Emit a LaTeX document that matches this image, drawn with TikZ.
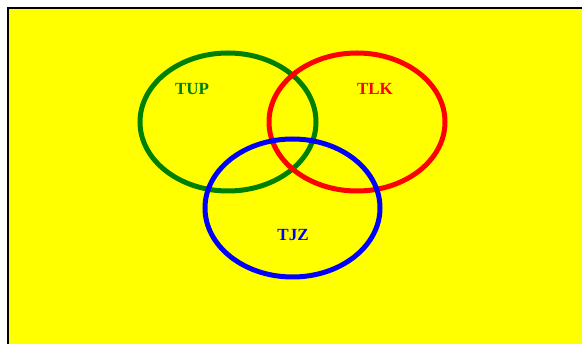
\documentclass[tikz,border=0pt]{standalone}
\usepackage{fontspec}
\setmainfont{Liberation Serif}
\definecolor{bgyellow}{RGB}{255,255,0}
\definecolor{ringgreen}{RGB}{0,128,0}
\definecolor{ringred}{RGB}{255,0,0}
\definecolor{ringblue}{RGB}{0,0,255}
\begin{document}
\begin{tikzpicture}[x=1pt,y=-1pt,
  ring/.style={line width=5pt},
  lbl/.style={font=\fontsize{17}{19}\selectfont\bfseries, inner sep=0pt}]
\useasboundingbox (0,0) rectangle (582,344);
\clip (0,0) rectangle (582,344);
\fill[white] (0,0) rectangle (582,344);
\draw[line width=2pt, fill=bgyellow] (8,8) rectangle (600,360);
\draw[ring, ringgreen] (228,122) ellipse [x radius=88, y radius=69];
\draw[ring, ringred] (357,122) ellipse [x radius=88, y radius=69];
\draw[ring, ringblue] (292.5,208) ellipse [x radius=87.5, y radius=69];
\node[lbl, text=ringgreen] (tup) at (192,89) {TUP};
\node[lbl, text=ringred] (tlk) at (375,89) {TLK};
\node[lbl, text=ringblue] (tjz) at (293,235) {TJZ};
\end{tikzpicture}
\end{document}
